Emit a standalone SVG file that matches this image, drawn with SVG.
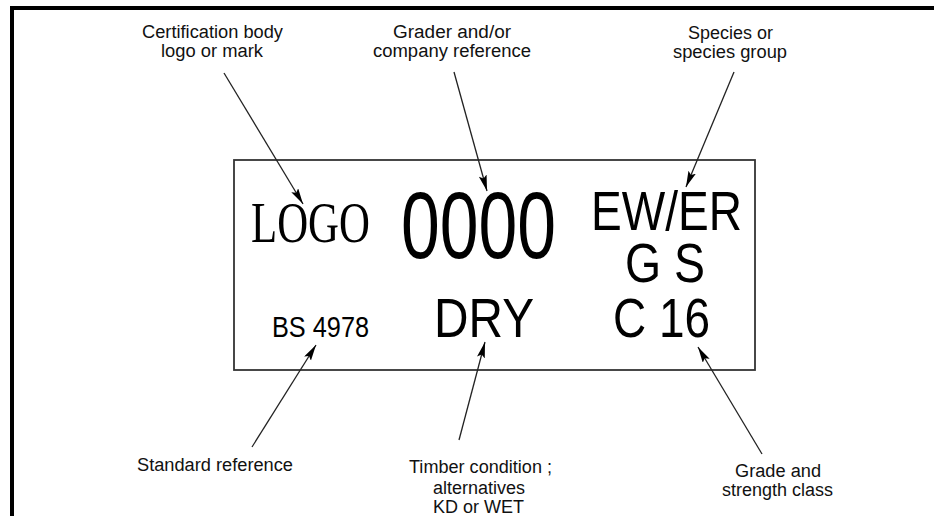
<svg xmlns="http://www.w3.org/2000/svg" width="934" height="516" viewBox="0 0 934 516">
<defs>
<style>
.lbl{font-family:"Liberation Sans",Arial,sans-serif;font-size:18px;fill:#111}
.big{font-family:"Liberation Sans",Arial,sans-serif;fill:#000}
.serif{font-family:"Liberation Serif","Times New Roman",serif;fill:#000}
.conn{stroke:#222;stroke-width:1.3;fill:none;marker-end:url(#ah)}
</style>
<marker id="ah" markerUnits="userSpaceOnUse" markerWidth="18" markerHeight="10" refX="16" refY="4" orient="auto">
<path d="M0,0 L16,4 L0,8 L3,4 z" fill="#000"/>
</marker>
</defs>
<rect width="934" height="516" fill="#fff"/>
<g id="frame">
<rect x="10" y="6" width="924" height="4" fill="#000"/>
<rect x="10" y="6" width="4" height="510" fill="#000"/>
</g>
<g id="stamp">
<rect x="234" y="160" width="521" height="210" fill="none" stroke="#333" stroke-width="1.8"/>
<text class="serif" x="251" y="242" font-size="56" textLength="119" lengthAdjust="spacingAndGlyphs">LOGO</text>
<text class="big" x="401" y="258" font-size="94" textLength="155" lengthAdjust="spacingAndGlyphs">0000</text>
<text class="big" x="591" y="230" font-size="56" textLength="151" lengthAdjust="spacingAndGlyphs">EW/ER</text>
<text class="big" x="625" y="282" font-size="56" textLength="80" lengthAdjust="spacingAndGlyphs">G S</text>
<text class="big" x="272" y="337" font-size="30" textLength="97" lengthAdjust="spacingAndGlyphs">BS 4978</text>
<text class="big" x="434" y="337" font-size="55" textLength="100" lengthAdjust="spacingAndGlyphs">DRY</text>
<text class="big" x="613" y="337" font-size="55" textLength="97" lengthAdjust="spacingAndGlyphs">C 16</text>
</g>
<g id="label-cert">
<text class="lbl" x="142" y="38" textLength="141" lengthAdjust="spacingAndGlyphs">Certification body</text>
<text class="lbl" x="161" y="57" textLength="102" lengthAdjust="spacingAndGlyphs">logo or mark</text>
</g>
<g id="label-grader">
<text class="lbl" x="393" y="38" textLength="118" lengthAdjust="spacingAndGlyphs">Grader and/or</text>
<text class="lbl" x="373" y="57" textLength="158" lengthAdjust="spacingAndGlyphs">company reference</text>
</g>
<g id="label-species">
<text class="lbl" x="688" y="39" textLength="85" lengthAdjust="spacingAndGlyphs">Species or</text>
<text class="lbl" x="673" y="58" textLength="114" lengthAdjust="spacingAndGlyphs">species group</text>
</g>
<g id="label-standard">
<text class="lbl" x="137" y="471" textLength="156" lengthAdjust="spacingAndGlyphs">Standard reference</text>
</g>
<g id="label-timber">
<text class="lbl" x="409" y="473" textLength="143" lengthAdjust="spacingAndGlyphs">Timber condition ;</text>
<text class="lbl" x="433" y="494" textLength="92" lengthAdjust="spacingAndGlyphs">alternatives</text>
<text class="lbl" x="433" y="513" textLength="91" lengthAdjust="spacingAndGlyphs">KD or WET</text>
</g>
<g id="label-grade">
<text class="lbl" x="735" y="477" textLength="86" lengthAdjust="spacingAndGlyphs">Grade and</text>
<text class="lbl" x="722" y="496" textLength="111" lengthAdjust="spacingAndGlyphs">strength class</text>
</g>
<g id="connectors">
<line class="conn" x1="224" y1="73" x2="303" y2="204"/>
<line class="conn" x1="454" y1="72" x2="487" y2="191"/>
<line class="conn" x1="734" y1="72" x2="686" y2="187"/>
<line class="conn" x1="252" y1="447" x2="316" y2="345"/>
<line class="conn" x1="459" y1="440" x2="485" y2="342"/>
<line class="conn" x1="762" y1="454" x2="698" y2="347"/>
</g>
</svg>
